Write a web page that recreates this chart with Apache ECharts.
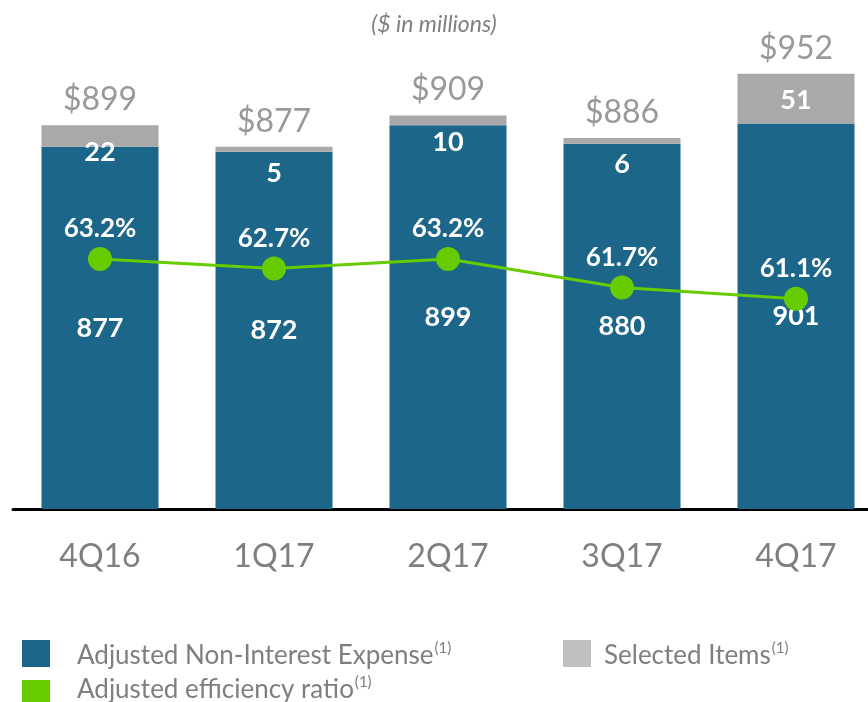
<!DOCTYPE html>
<html>
<head>
<meta charset="utf-8">
<script src="https://cdn.jsdelivr.net/npm/echarts@6/dist/echarts.min.js"></script>
<style>
	html, body { margin: 0; padding: 0; background: #fff; }
	#chart { width: 868px; height: 702px; }
</style>
</head>
<body>
<div id="chart"></div>
<script>
// 季度
var quarters = ["4Q16", "1Q17", "2Q17", "3Q17", "4Q17"];
// Adjusted Non-Interest Expense
var adjExpense = [877, 872, 899, 880, 901];
// Selected Items
var selItems = [22, 5, 10, 6, 51];
// Adjusted efficiency ratio (%)
var effRatio = [63.2, 62.7, 63.2, 61.7, 61.1];

var totals = [];
for (var i = 0; i < quarters.length; i++) {
	totals.push(adjExpense[i] + selItems[i]);
}

var font = "Lato";
var blue = "#1c6689", grey = "#a9a9a9", green = "#66cc00", txt = "#7f7f7f";

//图例（手动画，方便控制位置）
var legendRich = {
	a: { fontSize: 26, fill: txt, fontFamily: font, lineHeight: 30 },
	s: { fontSize: 15, fill: txt, fontFamily: font, lineHeight: 16, verticalAlign: "top", padding: [0, 0, 0, 1] }
};
function legendItem(name, color, bx, by, tx, ty) {
	return [{
		type: "rect",
		shape: { x: bx, y: by, width: 28, height: 27 },
		style: { fill: color }
	}, {
		type: "text",
		style: {
			text: "{a|" + name + "}{s|(1)}",
			x: tx, y: ty,
			verticalAlign: "middle",
			rich: legendRich
		}
	}];
}
var legendGraphics = [].concat(
	legendItem("Adjusted Non-Interest Expense", blue, 22, 640, 77, 656),
	legendItem("Selected Items", "#c0c0c0", 563, 640, 604, 656),
	legendItem("Adjusted efficiency ratio", green, 22, 680, 77, 690)
);

var myChart = echarts.init(document.getElementById("chart"));
myChart.setOption({
	animation: false,
	textStyle: { fontFamily: font },
	title: {
		text: "($ in millions)",
		left: "center",
		top: 8,
		textStyle: { color: txt, fontSize: 23, fontStyle: "italic", fontWeight: "normal", fontFamily: font }
	},
	graphic: legendGraphics,
	grid: { left: 13, right: -15, top: 27, bottom: 193, outerBoundsMode: "none" },
	xAxis: {
		type: "category",
		data: quarters,
		axisLine: { lineStyle: { color: "#000", width: 3 } },
		axisTick: { show: false },
		axisLabel: { color: txt, fontSize: 32, margin: 32, fontFamily: font }
	},
	yAxis: [
		{ type: "value", min: 505, max: 1000, show: false, splitLine: { show: false } },
		{ type: "value", min: 50, max: 75.45, show: false, splitLine: { show: false } }
	],
	series: [{
		name: "Adjusted Non-Interest Expense",
		type: "bar",
		stack: "exp",
		barWidth: 117,
		data: adjExpense,
		itemStyle: { color: blue },
		label: { show: true, position: "inside", color: "#fff", fontSize: 27, fontWeight: "bold", fontFamily: font }
	}, {
		name: "Selected Items",
		type: "bar",
		stack: "exp",
		barWidth: 117,
		data: selItems,
		itemStyle: { color: grey },
		label: { show: true, position: "insideTop", offset: [0, 8], color: "#fff", fontSize: 27, fontWeight: "bold", fontFamily: font }
	}, {
		name: "总计",
		type: "scatter",
		data: totals,
		symbolSize: 1,
		itemStyle: { color: "rgba(0,0,0,0)" },
		label: {
			show: true, position: "top", distance: 9, color: txt, fontSize: 32, fontFamily: font,
			formatter: function(p){ return "$" + p.value; }
		},
		z: 5
	}, {
		name: "Adjusted efficiency ratio",
		type: "line",
		yAxisIndex: 1,
		data: effRatio,
		symbol: "circle",
		symbolSize: 24,
		itemStyle: { color: green },
		lineStyle: { color: green, width: 3 },
		label: {
			show: true, position: "top", distance: 5, color: "#fff", fontSize: 26, fontWeight: "bold", fontFamily: font,
			formatter: function(p){ return p.value.toFixed(1) + "%"; }
		},
		z: 10
	}]
});
</script>
</body>
</html>
